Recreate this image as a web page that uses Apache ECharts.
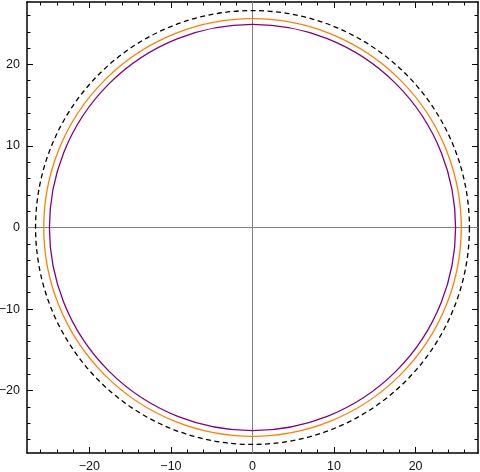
<!DOCTYPE html>
<html>
<head>
<meta charset="utf-8">
<script src="https://cdn.jsdelivr.net/npm/echarts@6/dist/echarts.min.js"></script>
<style>
  html, body { margin: 0; padding: 0; background: #fff; }
  #main { width: 480px; height: 472px; }
</style>
</head>
<body>
<div id="main"></div>
<script>
// circle radii
var seriesNames = ['purple', 'orange', 'dashed'];
var radii = [24.9, 25.6, 26.6];
var majorTicks = [-20, -10, 0, 10, 20];
var minorTicks = [-26, -24, -22, -18, -16, -14, -12, -8, -6, -4, -2, 2, 4, 6, 8, 12, 14, 16, 18, 22, 24, 26];

var colors = ['#800080', '#ff8000', '#000000'];
var dashes = [null, null, [5, 3.5]];
var lim = 27.65;

function fmt(v) {
    return String(v).replace('-', '\u2212');
}

function makeAxis(pos, major, labels, margin) {
    return {
        type: 'value',
        position: pos,
        min: -lim,
        max: lim,
        axisLine: { show: major, onZero: false, lineStyle: { color: '#000', width: 1.5 } },
        axisTick: {
            show: true,
            inside: true,
            length: major ? 6 : 3.5,
            customValues: major ? majorTicks : minorTicks,
            lineStyle: { color: '#000', width: 1 }
        },
        axisLabel: {
            show: labels,
            customValues: majorTicks,
            formatter: fmt,
            color: '#111',
            fontSize: 12.5,
            fontFamily: 'Liberation Sans',
            margin: margin
        },
        splitLine: { show: false }
    };
}

var xAxes = [
    makeAxis('bottom', true, true, 7),
    makeAxis('bottom', false, false, 7),
    makeAxis('top', true, false, 7),
    makeAxis('top', false, false, 7)
];
var yAxes = [
    makeAxis('left', true, true, 7),
    makeAxis('left', false, false, 7),
    makeAxis('right', true, false, 7),
    makeAxis('right', false, false, 7)
];

var series = [];
for (var i = 0; i < radii.length; i++) {
    (function (idx) {
        series.push({
            name: seriesNames[idx],
            type: 'custom',
            xAxisIndex: 0,
            yAxisIndex: 0,
            data: [[0, 0, radii[idx]]],
            renderItem: function (params, api) {
                var c = api.coord([api.value(0), api.value(1)]);
                var r = api.size([api.value(2), 0])[0];
                return {
                    type: 'circle',
                    shape: { cx: c[0], cy: c[1], r: r },
                    style: {
                        fill: null,
                        stroke: colors[idx],
                        lineWidth: 1.3,
                        lineDash: dashes[idx]
                    },
                    silent: true
                };
            },
            markLine: idx === 0 ? {
                silent: true,
                symbol: 'none',
                label: { show: false },
                lineStyle: { color: '#808080', width: 1, type: 'solid' },
                data: [{ xAxis: 0 }, { yAxis: 0 }],
                z: 1
            } : undefined,
            z: 3 + idx
        });
    })(i);
}

var myChart = echarts.init(document.getElementById('main'));
var option = {
    animation: false,
    backgroundColor: '#fff',
    grid: { left: 27, right: 2, top: 2, bottom: 19, outerBoundsMode: 'none', containLabel: false },
    xAxis: xAxes,
    yAxis: yAxes,
    series: series
};
myChart.setOption(option);
</script>
</body>
</html>
